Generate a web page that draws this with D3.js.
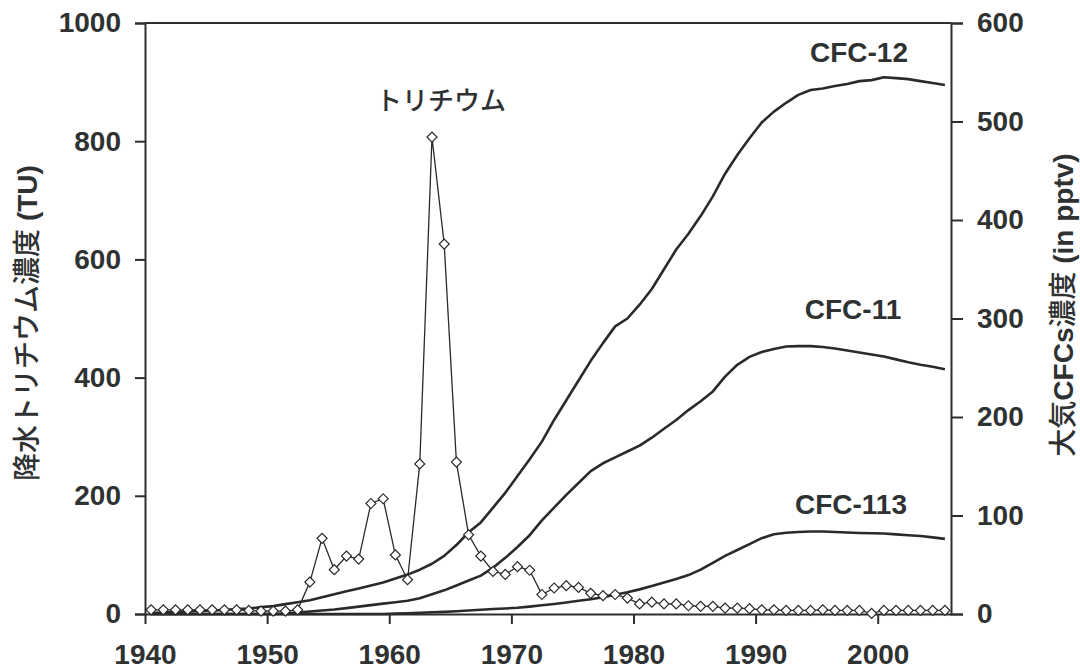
<!DOCTYPE html>
<html>
<head>
<meta charset="utf-8">
<script src="https://cdn.jsdelivr.net/npm/d3@7"></script>
<style>
  body { margin: 0; background: #fff; }
  text { fill: #2f3232; }
</style>
</head>
<body>
<div id="chart"></div>
<script>
// years 1940..2005, plotted at mid-year
var years = d3.range(1940, 2006);

// tritium in precipitation (TU)
var tritium = [7, 7, 7, 7, 7, 7, 7, 7, 6, 5, 5, 5, 7,
  54, 128, 75, 98, 93, 187, 195, 100, 58, 254, 807, 626, 257, 134, 98, 72, 67,
  80, 74, 33, 44, 48, 45, 35, 31, 33, 27, 17, 20, 17, 17, 14, 13, 13, 10, 10, 9,
  7, 7, 6, 6, 6, 7, 6, 6, 6, 1, 6, 6, 6, 6, 6, 6];

// atmospheric CFCs (pptv)
var cfc12 = [1, 1.5, 2, 2.5, 3, 3.5, 4, 5, 5.5, 7,
  8, 10, 12, 14, 17, 20, 23, 26, 29, 32,
  36, 40, 45, 51, 59, 70, 83, 93, 108, 123,
  140, 157, 175, 197, 217, 237, 257, 275, 292, 300,
  314, 330, 350, 370, 386, 404, 424, 447, 466, 483,
  499, 510, 519, 527, 532, 533.5, 536, 538, 541, 542,
  545, 544, 543, 541, 539, 537];
var cfc11 = [0, 0, 0, 0, 0, 0, 0, 0, 0, 0,
  0, 0.5, 1.5, 2.5, 3.5, 4.5, 6, 7.5, 9, 10.5,
  12, 13.5, 16, 20, 24, 29, 34, 39, 47, 57,
  68, 80, 95, 108, 121, 133, 145, 153, 159, 165,
  171, 179, 188, 197, 207, 216, 226, 241, 253, 261,
  266, 269, 271.5, 272, 272, 271, 269.5, 267.5, 265.5, 263.5,
  261.5, 258.5, 255.5, 253, 251, 248.5];
var cfc113 = [0, 0, 0, 0, 0, 0, 0, 0, 0, 0,
  0, 0, 0, 0, 0, 0, 0, 0, 0, 0,
  0.4, 0.7, 1.2, 1.7, 2.2, 2.8, 3.5, 4.3, 5, 5.6,
  6.4, 7.5, 8.8, 10.2, 11.7, 13.4, 15, 17, 19.5, 22,
  25, 28.5, 32, 35.5, 39.5, 45, 52, 59, 65, 71,
  77, 81, 82.5, 83.2, 83.7, 83.7, 83.2, 82.8, 82.3, 82,
  81.8, 80.8, 80, 79.2, 77.8, 76.3];

var xTicks = [1940, 1950, 1960, 1970, 1980, 1990, 2000];
var leftTicks = [0, 200, 400, 600, 800, 1000];
var rightTicks = [0, 100, 200, 300, 400, 500, 600];

var W = 1080, H = 672;
var ink = "#2e2e2e";

var svg = d3.select("#chart")
  .append("svg")
    .attr("width", W)
    .attr("height", H);

var x = d3.scaleLinear().domain([1940, 2006]).range([145, 951]);
var yL = d3.scaleLinear().domain([0, 1000]).range([614, 23]);
var yR = d3.scaleLinear().domain([0, 600]).range([614, 23]);

function styleAxis(g) {
  g.selectAll("path, line").attr("stroke", ink).attr("stroke-width", 2);
  g.selectAll("text")
    .attr("fill", "#2f3232")
    .style("font-family", "'Liberation Sans', Arial, sans-serif")
    .style("font-weight", "bold")
    .style("font-size", "28px");
}

// top frame line
svg.append("line")
  .attr("x1", x(1940)).attr("x2", x(2006))
  .attr("y1", yL(1000)).attr("y2", yL(1000))
  .attr("stroke", ink).attr("stroke-width", 2);

// bottom axis
svg.append("g")
  .attr("transform", "translate(0," + yL(0) + ")")
  .call(d3.axisBottom(x).tickValues(xTicks).tickFormat(d3.format("d"))
    .tickSize(10).tickSizeOuter(0).tickPadding(20))
  .call(styleAxis);

// left axis
svg.append("g")
  .attr("transform", "translate(" + x(1940) + ",0)")
  .call(d3.axisLeft(yL).tickValues(leftTicks).tickFormat(d3.format("d"))
    .tickSize(10).tickPadding(14))
  .call(styleAxis);

// right axis
svg.append("g")
  .attr("transform", "translate(" + x(2006) + ",0)")
  .call(d3.axisRight(yR).tickValues(rightTicks).tickFormat(d3.format("d"))
    .tickSize(12).tickPadding(14))
  .call(styleAxis);

// CFC curves
var cfcLine = d3.line()
  .x(function(d, i) { return x(years[i] + 0.5); })
  .y(function(d) { return yR(d); });

[cfc12, cfc11, cfc113].forEach(function(s) {
  svg.append("path")
    .datum(s)
    .attr("fill", "none")
    .attr("stroke", "#2a2a2a")
    .attr("stroke-width", 2.6)
    .attr("stroke-linejoin", "round")
    .attr("d", cfcLine);
});

// tritium line + diamonds
var tLine = d3.line()
  .x(function(d, i) { return x(years[i] + 0.5); })
  .y(function(d) { return yL(d); });

svg.append("path")
  .datum(tritium)
  .attr("fill", "none")
  .attr("stroke", "#2a2a2a")
  .attr("stroke-width", 1.3)
  .attr("d", tLine);

var diamond = d3.symbol().type(d3.symbolSquare).size(50);
svg.append("g")
  .selectAll("path")
  .data(tritium)
  .enter().append("path")
    .attr("d", diamond)
    .attr("transform", function(d, i) {
      return "translate(" + x(years[i] + 0.5) + "," + yL(d) + ") rotate(45)";
    })
    .attr("fill", "#fff")
    .attr("stroke", "#2a2a2a")
    .attr("stroke-width", 1.2);

// series labels
var latin = "'Liberation Sans', Arial, sans-serif";
var cjk = "'Noto Sans CJK JP', sans-serif";

function label(txt, cx, base) {
  svg.append("text")
    .attr("x", cx).attr("y", base)
    .attr("text-anchor", "middle")
    .style("font-family", latin)
    .style("font-weight", "bold")
    .style("font-size", "28px")
    .text(txt);
}
label("CFC-12", 859, 62);
label("CFC-11", 853, 319);
label("CFC-113", 851, 514);

svg.append("text")
  .attr("x", 441).attr("y", 110)
  .attr("text-anchor", "middle")
  .style("font-family", cjk)
  .style("font-weight", 500)
  .style("font-size", "26px")
  .text("トリチウム");

// axis titles
function axisTitle(cx, cy, jp1, lat1, jp2, lat2) {
  var t = svg.append("text")
    .attr("transform", "translate(" + cx + "," + cy + ") rotate(-90)")
    .attr("text-anchor", "middle")
    .attr("dy", "0.35em")
    .style("font-size", "28px");
  [[jp1, cjk, 500], [lat1, latin, "bold"], [jp2, cjk, 500], [lat2, latin, "bold"]]
    .forEach(function(p) {
      if (!p[0]) return;
      t.append("tspan")
        .style("font-family", p[1])
        .style("font-weight", p[2])
        .text(p[0]);
    });
}
axisTitle(27, 323, "降水トリチウム濃度", " (TU)", "", "");
axisTitle(1063, 305, "大気", "CFCs", "濃度", " (in pptv)");
</script>
</body>
</html>
